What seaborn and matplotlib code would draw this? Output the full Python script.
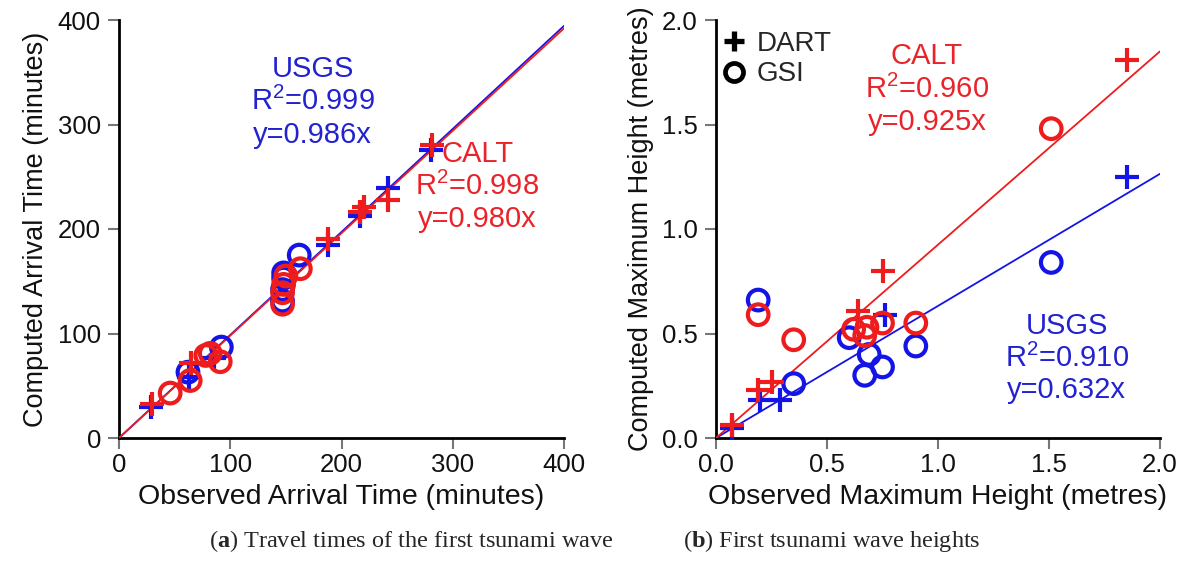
import matplotlib
matplotlib.use("Agg")
import matplotlib.pyplot as plt
from matplotlib.lines import Line2D
import seaborn as sns
import numpy as np
import pandas as pd

# ---------------- data ----------------
# (a) arrival times (minutes)
usgs_dart_obs_t = [29, 63, 85, 188, 217, 242, 280]
usgs_dart_comp_t = [30, 58, 77, 185, 212, 239, 276]
calt_dart_obs_t = [30, 65, 188, 217, 220, 242, 281]
calt_dart_comp_t = [33, 72, 190, 216, 221, 228, 280]
usgs_gsi_obs_t = [62, 92, 147, 147, 148, 148, 162]
usgs_gsi_comp_t = [63, 87, 131, 142, 153, 158, 175]
calt_gsi_obs_t = [46, 64, 78, 82, 91, 147, 147, 148, 150, 163]
calt_gsi_comp_t = [43, 55, 79, 81, 73, 128, 139, 147, 155, 162]

# (b) maximum heights (metres)
usgs_dart_obs_h = [0.07, 0.20, 0.29, 0.76, 1.85]
usgs_dart_comp_h = [0.05, 0.18, 0.18, 0.59, 1.25]
calt_dart_obs_h = [0.07, 0.19, 0.25, 0.64, 0.75, 1.85]
calt_dart_comp_h = [0.06, 0.23, 0.27, 0.61, 0.80, 1.81]
usgs_gsi_obs_h = [0.19, 0.35, 0.60, 0.69, 0.67, 0.75, 0.90, 1.51]
usgs_gsi_comp_h = [0.66, 0.26, 0.48, 0.40, 0.30, 0.34, 0.44, 0.84]
calt_gsi_obs_h = [0.19, 0.35, 0.62, 0.67, 0.68, 0.75, 0.90, 1.51]
calt_gsi_comp_h = [0.59, 0.47, 0.52, 0.49, 0.53, 0.55, 0.55, 1.48]

# fitted slopes and statistics (from annotations)
slope_t = {"USGS": 0.986, "CALT": 0.980}
r2_t = {"USGS": "0.999", "CALT": "0.998"}
slope_h = {"USGS": 0.632, "CALT": 0.925}
r2_h = {"USGS": "0.910", "CALT": "0.960"}

ticks_t = [0, 100, 200, 300, 400]
ticks_h = [0.0, 0.5, 1.0, 1.5, 2.0]

# ---------------- style ----------------
sns.set_style("ticks")
plt.rcParams["font.family"] = ["Liberation Sans", "DejaVu Sans"]
plt.rcParams["mathtext.fontset"] = "custom"
plt.rcParams["mathtext.rm"] = "Liberation Sans"
plt.rcParams["mathtext.bf"] = "Liberation Serif:bold"

BLUE = "#1414e6"
RED = "#ee1c1c"
BLUE_T = "#2222d0"
RED_T = "#e8242a"

fig = plt.figure(figsize=(11.86, 5.65), dpi=100)
axL = fig.add_axes([119 / 1186, 1 - 438 / 565, 445 / 1186, 418 / 565])
axR = fig.add_axes([716 / 1186, 1 - 438 / 565, 444 / 1186, 418 / 565])

CIRC_S = 220
CIRC_LW = 3.0
PLUS_S = 300
PLUS_LW = 3.0


def scatter(ax, x, y, marker, color):
    if marker == "o":
        sns.scatterplot(x=x, y=y, ax=ax, marker="o", s=CIRC_S, legend=False,
                        zorder=4)
        pc = ax.collections[-1]
        pc.set_facecolor("none")
        pc.set_edgecolor(color)
        pc.set_linewidth(CIRC_LW)
    else:
        sns.scatterplot(x=x, y=y, ax=ax, marker="+", s=PLUS_S, legend=False,
                        zorder=4)
        pc = ax.collections[-1]
        pc.set_facecolor(color)
        pc.set_edgecolor(color)
        pc.set_linewidth(PLUS_LW)
    pc.set_clip_on(False)


def fitline(ax, xmax, slope, color):
    xs = np.array([0.0, xmax])
    df = pd.DataFrame({"x": xs, "y": slope * xs})
    sns.lineplot(data=df, x="x", y="y", ax=ax, color=color, lw=1.3, zorder=3)


def style_axes(ax, ticks, xlabel, ylabel, fmt):
    lim = (ticks[0], ticks[-1])
    ax.set_xlim(lim)
    ax.set_ylim(lim)
    ax.set_xticks(ticks)
    ax.set_yticks(ticks)
    ax.set_xticklabels([fmt(t) for t in ticks])
    ax.set_yticklabels([fmt(t) for t in ticks])
    sns.despine(ax=ax)
    for s in ("left", "bottom"):
        ax.spines[s].set_linewidth(2.0)
        ax.spines[s].set_color("black")
    ax.tick_params(direction="out", length=8, width=1.5, color="#777777",
                   labelsize=18.5, labelcolor="#111111")
    ax.tick_params(axis="x", pad=3)
    ax.tick_params(axis="y", pad=5)
    ax.set_xlabel(xlabel, fontsize=20.5, color="#111111", labelpad=5)
    ax.set_ylabel(ylabel, fontsize=19.5, color="#111111", labelpad=6)


TXT = 21


def block(ax, x, y0, dy, name, r2, slope, color):
    lines = [name, "R$^{2}$=" + r2, f"y={slope:.3f}x"]
    for i, s in enumerate(lines):
        ax.text(x, y0 - i * dy, s, color=color, fontsize=TXT,
                ha="center", va="center")


# ---------- panel (a) ----------
fitline(axL, 400, slope_t["USGS"], BLUE)
fitline(axL, 400, slope_t["CALT"], RED)
scatter(axL, usgs_dart_obs_t, usgs_dart_comp_t, "+", BLUE)
scatter(axL, usgs_gsi_obs_t, usgs_gsi_comp_t, "o", BLUE)
scatter(axL, calt_dart_obs_t, calt_dart_comp_t, "+", RED)
scatter(axL, calt_gsi_obs_t, calt_gsi_comp_t, "o", RED)
style_axes(axL, ticks_t, "Observed Arrival Time (minutes)",
           "Computed Arrival Time (minutes)", lambda t: f"{t:d}")

block(axL, 174, 353, 31.3, "USGS", r2_t["USGS"], slope_t["USGS"], BLUE_T)
block(axL, 322, 272, 31.3, "CALT", r2_t["CALT"], slope_t["CALT"], RED_T)

# ---------- panel (b) ----------
fitline(axR, 2.0, slope_h["USGS"], BLUE)
fitline(axR, 2.0, slope_h["CALT"], RED)
scatter(axR, usgs_dart_obs_h, usgs_dart_comp_h, "+", BLUE)
scatter(axR, usgs_gsi_obs_h, usgs_gsi_comp_h, "o", BLUE)
scatter(axR, calt_dart_obs_h, calt_dart_comp_h, "+", RED)
scatter(axR, calt_gsi_obs_h, calt_gsi_comp_h, "o", RED)
style_axes(axR, ticks_h, "Observed Maximum Height (metres)",
           "Computed Maximum Height (metres)", lambda t: f"{t:.1f}")

block(axR, 0.95, 1.83, 0.16, "CALT", r2_h["CALT"], slope_h["CALT"], RED_T)
block(axR, 1.58, 0.535, 0.153, "USGS", r2_h["USGS"], slope_h["USGS"], BLUE_T)

handles = [
    Line2D([], [], ls="none", marker="+", color="black", markersize=15, mew=3.8),
    Line2D([], [], ls="none", marker="o", color="black", markerfacecolor="none",
           markersize=13, mew=3.4),
]
axR.legend(handles, ["DART", "GSI"], loc="upper left", frameon=False,
           fontsize=20, handletextpad=0.3, handlelength=1.0,
           borderaxespad=0.0, labelspacing=0.15, bbox_to_anchor=(-0.015, 1.0))

# ---------- captions ----------
fig.text(411 / 1186, 1 - 541 / 565, r"($\mathbf{a}$) Travel times of the first tsunami wave",
         fontsize=17.5, family="Liberation Serif", ha="center", va="center")
fig.text(832 / 1186, 1 - 541 / 565, r"($\mathbf{b}$) First tsunami wave heights",
         fontsize=17.5, family="Liberation Serif", ha="center", va="center")

fig.savefig("out.png", dpi=100, facecolor="white")
